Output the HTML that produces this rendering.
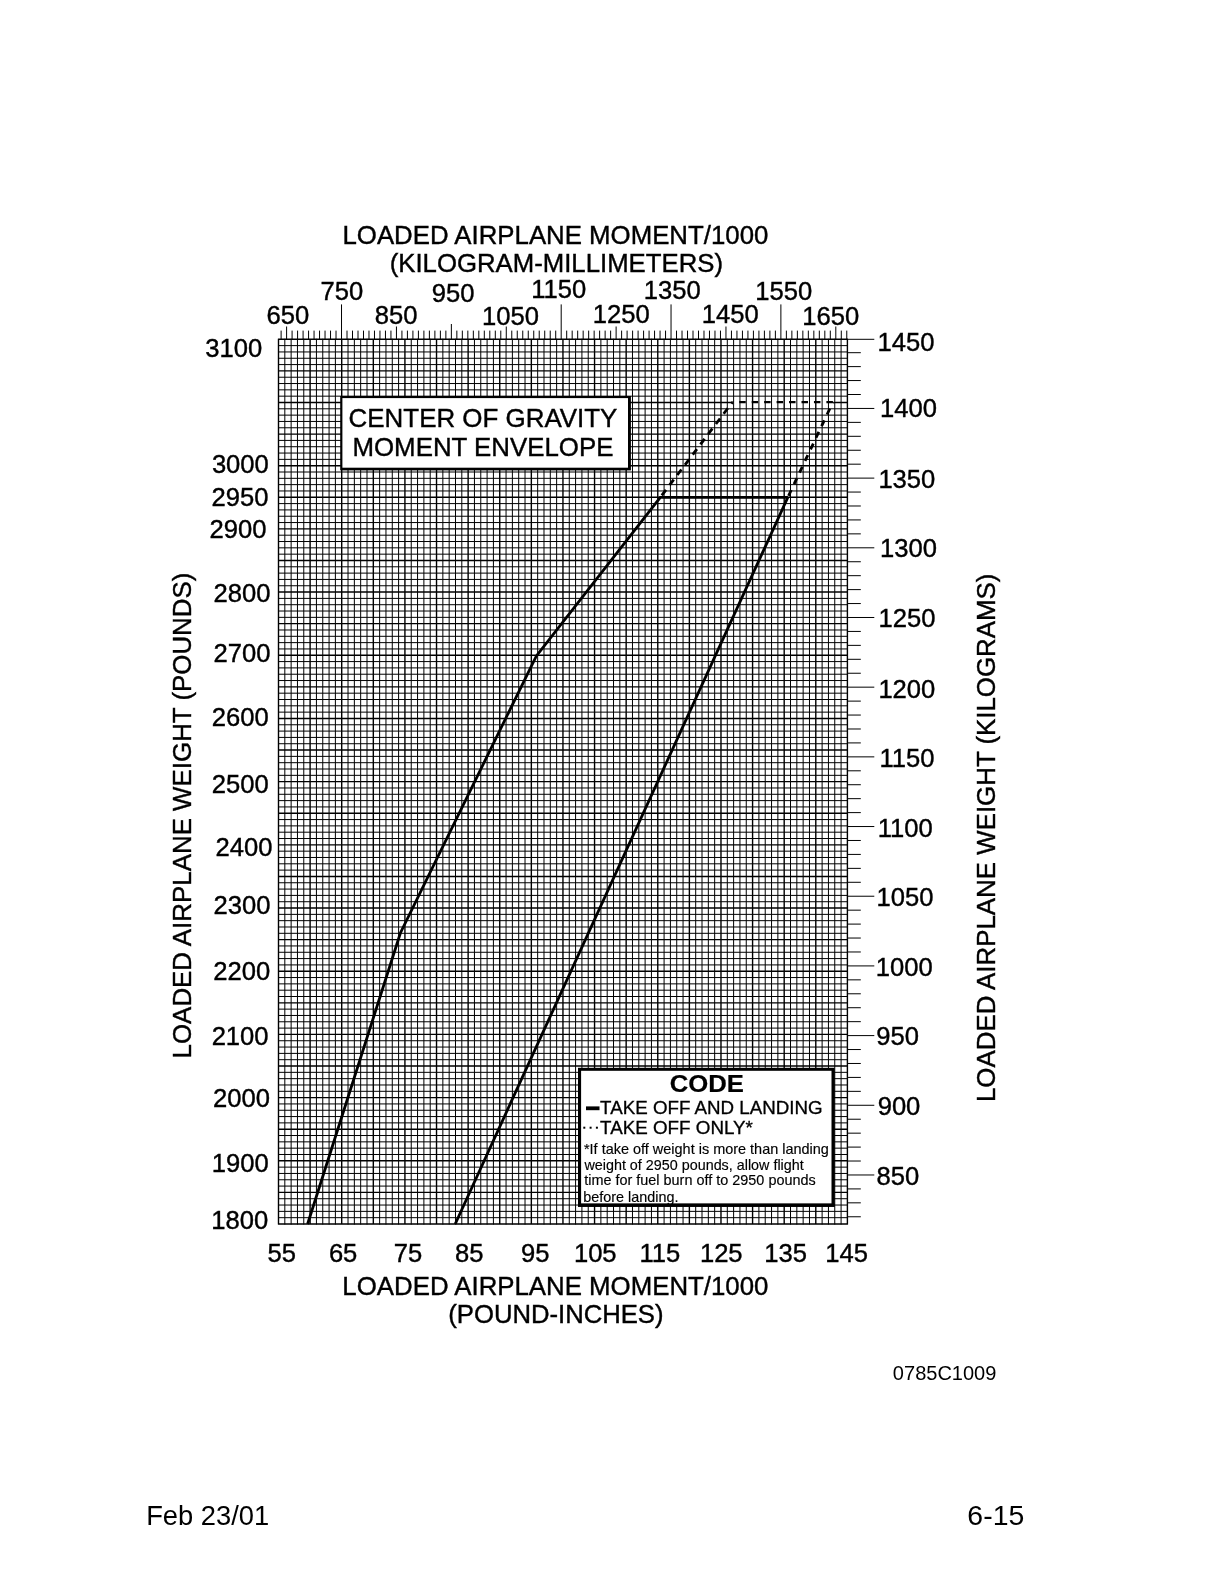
<!DOCTYPE html>
<html lang="en"><head><meta charset="utf-8"><title>Center of Gravity Moment Envelope</title>
<style>html,body{margin:0;padding:0;background:#fff}svg{display:block;will-change:transform}text{font-family:'Liberation Sans', sans-serif;fill:#000;white-space:pre}</style></head><body>
<svg width="1224" height="1584" viewBox="0 0 1224 1584">
<rect x="0" y="0" width="1224" height="1584" fill="#fff"/>
<g stroke="#000" fill="none">
<path stroke-width="1.00" d="M284.82 338.80V1224.50M291.14 338.80V1224.50M297.46 338.80V1224.50M303.78 338.80V1224.50M316.43 338.80V1224.50M322.75 338.80V1224.50M329.07 338.80V1224.50M335.39 338.80V1224.50M348.03 338.80V1224.50M354.35 338.80V1224.50M360.67 338.80V1224.50M367.00 338.80V1224.50M379.64 338.80V1224.50M385.96 338.80V1224.50M392.28 338.80V1224.50M398.60 338.80V1224.50M411.24 338.80V1224.50M417.56 338.80V1224.50M423.89 338.80V1224.50M430.21 338.80V1224.50M442.85 338.80V1224.50M449.17 338.80V1224.50M455.49 338.80V1224.50M461.81 338.80V1224.50M474.45 338.80V1224.50M480.78 338.80V1224.50M487.10 338.80V1224.50M493.42 338.80V1224.50M506.06 338.80V1224.50M512.38 338.80V1224.50M518.70 338.80V1224.50M525.02 338.80V1224.50M537.67 338.80V1224.50M543.99 338.80V1224.50M550.31 338.80V1224.50M556.63 338.80V1224.50M569.27 338.80V1224.50M575.59 338.80V1224.50M581.91 338.80V1224.50M588.23 338.80V1224.50M600.88 338.80V1224.50M607.20 338.80V1224.50M613.52 338.80V1224.50M619.84 338.80V1224.50M632.48 338.80V1224.50M638.80 338.80V1224.50M645.12 338.80V1224.50M651.45 338.80V1224.50M664.09 338.80V1224.50M670.41 338.80V1224.50M676.73 338.80V1224.50M683.05 338.80V1224.50M695.69 338.80V1224.50M702.01 338.80V1224.50M708.34 338.80V1224.50M714.66 338.80V1224.50M727.30 338.80V1224.50M733.62 338.80V1224.50M739.94 338.80V1224.50M746.26 338.80V1224.50M758.90 338.80V1224.50M765.23 338.80V1224.50M771.55 338.80V1224.50M777.87 338.80V1224.50M790.51 338.80V1224.50M796.83 338.80V1224.50M803.15 338.80V1224.50M809.47 338.80V1224.50M822.12 338.80V1224.50M828.44 338.80V1224.50M834.76 338.80V1224.50M841.08 338.80V1224.50M278.00 345.62H847.90M278.00 351.94H847.90M278.00 358.26H847.90M278.00 364.58H847.90M278.00 377.22H847.90M278.00 383.54H847.90M278.00 389.85H847.90M278.00 396.17H847.90M278.00 408.81H847.90M278.00 415.13H847.90M278.00 421.45H847.90M278.00 427.77H847.90M278.00 440.41H847.90M278.00 446.73H847.90M278.00 453.05H847.90M278.00 459.37H847.90M278.00 472.00H847.90M278.00 478.32H847.90M278.00 484.64H847.90M278.00 490.96H847.90M278.00 503.60H847.90M278.00 509.92H847.90M278.00 516.24H847.90M278.00 522.56H847.90M278.00 535.20H847.90M278.00 541.52H847.90M278.00 547.84H847.90M278.00 554.16H847.90M278.00 566.79H847.90M278.00 573.11H847.90M278.00 579.43H847.90M278.00 585.75H847.90M278.00 598.39H847.90M278.00 604.71H847.90M278.00 611.03H847.90M278.00 617.35H847.90M278.00 629.99H847.90M278.00 636.31H847.90M278.00 642.63H847.90M278.00 648.95H847.90M278.00 661.58H847.90M278.00 667.90H847.90M278.00 674.22H847.90M278.00 680.54H847.90M278.00 693.18H847.90M278.00 699.50H847.90M278.00 705.82H847.90M278.00 712.14H847.90M278.00 724.78H847.90M278.00 731.10H847.90M278.00 737.41H847.90M278.00 743.73H847.90M278.00 756.37H847.90M278.00 762.69H847.90M278.00 769.01H847.90M278.00 775.33H847.90M278.00 787.97H847.90M278.00 794.29H847.90M278.00 800.61H847.90M278.00 806.93H847.90M278.00 819.57H847.90M278.00 825.88H847.90M278.00 832.20H847.90M278.00 838.52H847.90M278.00 851.16H847.90M278.00 857.48H847.90M278.00 863.80H847.90M278.00 870.12H847.90M278.00 882.76H847.90M278.00 889.08H847.90M278.00 895.40H847.90M278.00 901.72H847.90M278.00 914.36H847.90M278.00 920.67H847.90M278.00 926.99H847.90M278.00 933.31H847.90M278.00 945.95H847.90M278.00 952.27H847.90M278.00 958.59H847.90M278.00 964.91H847.90M278.00 977.55H847.90M278.00 983.87H847.90M278.00 990.19H847.90M278.00 996.51H847.90M278.00 1009.14H847.90M278.00 1015.46H847.90M278.00 1021.78H847.90M278.00 1028.10H847.90M278.00 1040.74H847.90M278.00 1047.06H847.90M278.00 1053.38H847.90M278.00 1059.70H847.90M278.00 1072.34H847.90M278.00 1078.66H847.90M278.00 1084.98H847.90M278.00 1091.30H847.90M278.00 1103.93H847.90M278.00 1110.25H847.90M278.00 1116.57H847.90M278.00 1122.89H847.90M278.00 1135.53H847.90M278.00 1141.85H847.90M278.00 1148.17H847.90M278.00 1154.49H847.90M278.00 1167.13H847.90M278.00 1173.45H847.90M278.00 1179.77H847.90M278.00 1186.08H847.90M278.00 1198.72H847.90M278.00 1205.04H847.90M278.00 1211.36H847.90M278.00 1217.68H847.90"/>
<path stroke-width="1.40" d="M278.50 338.80V1224.50M310.11 338.80V1224.50M341.71 338.80V1224.50M373.32 338.80V1224.50M404.92 338.80V1224.50M436.53 338.80V1224.50M468.13 338.80V1224.50M499.74 338.80V1224.50M531.34 338.80V1224.50M562.95 338.80V1224.50M594.56 338.80V1224.50M626.16 338.80V1224.50M657.77 338.80V1224.50M689.37 338.80V1224.50M720.98 338.80V1224.50M752.58 338.80V1224.50M784.19 338.80V1224.50M815.79 338.80V1224.50M847.40 338.80V1224.50M278.00 339.30H847.90M278.00 370.90H847.90M278.00 402.49H732.00M833.30 402.49H847.90M278.00 434.09H847.90M278.00 465.69H847.90M278.00 497.28H847.90M278.00 528.88H847.90M278.00 560.48H847.90M278.00 592.07H847.90M278.00 623.67H847.90M278.00 655.26H847.90M278.00 686.86H847.90M278.00 718.46H847.90M278.00 750.05H847.90M278.00 781.65H847.90M278.00 813.25H847.90M278.00 844.84H847.90M278.00 876.44H847.90M278.00 908.04H847.90M278.00 939.63H847.90M278.00 971.23H847.90M278.00 1002.83H847.90M278.00 1034.42H847.90M278.00 1066.02H847.90M278.00 1097.61H847.90M278.00 1129.21H847.90M278.00 1160.81H847.90M278.00 1192.40H847.90M278.00 1224.00H847.90"/>
</g>
<path stroke="#000" stroke-width="1" fill="none" d="M281.11 330.60V339.30M286.60 326.50V339.30M292.09 330.60V339.30M297.58 330.60V339.30M303.08 330.60V339.30M308.57 330.60V339.30M314.06 330.60V339.30M319.55 330.60V339.30M325.04 330.60V339.30M330.54 330.60V339.30M336.03 330.60V339.30M341.52 304.40V339.30M347.01 330.60V339.30M352.50 330.60V339.30M358.00 330.60V339.30M363.49 330.60V339.30M368.98 330.60V339.30M374.47 330.60V339.30M379.96 330.60V339.30M385.46 330.60V339.30M390.95 330.60V339.30M396.44 326.50V339.30M401.93 330.60V339.30M407.42 330.60V339.30M412.92 330.60V339.30M418.41 330.60V339.30M423.90 330.60V339.30M429.39 330.60V339.30M434.88 330.60V339.30M440.38 330.60V339.30M445.87 330.60V339.30M451.36 324.00V339.30M456.85 330.60V339.30M462.34 330.60V339.30M467.84 330.60V339.30M473.33 330.60V339.30M478.82 330.60V339.30M484.31 330.60V339.30M489.80 330.60V339.30M495.30 330.60V339.30M500.79 330.60V339.30M506.28 326.50V339.30M511.77 330.60V339.30M517.26 330.60V339.30M522.76 330.60V339.30M528.25 330.60V339.30M533.74 330.60V339.30M539.23 330.60V339.30M544.72 330.60V339.30M550.22 330.60V339.30M555.71 330.60V339.30M561.20 304.40V339.30M566.69 330.60V339.30M572.18 330.60V339.30M577.68 330.60V339.30M583.17 330.60V339.30M588.66 330.60V339.30M594.15 330.60V339.30M599.64 330.60V339.30M605.14 330.60V339.30M610.63 330.60V339.30M616.12 326.50V339.30M621.61 330.60V339.30M627.10 330.60V339.30M632.60 330.60V339.30M638.09 330.60V339.30M643.58 330.60V339.30M649.07 330.60V339.30M654.56 330.60V339.30M660.06 330.60V339.30M665.55 330.60V339.30M671.04 304.40V339.30M676.53 330.60V339.30M682.02 330.60V339.30M687.52 330.60V339.30M693.01 330.60V339.30M698.50 330.60V339.30M703.99 330.60V339.30M709.48 330.60V339.30M714.98 330.60V339.30M720.47 330.60V339.30M725.96 326.50V339.30M731.45 330.60V339.30M736.94 330.60V339.30M742.44 330.60V339.30M747.93 330.60V339.30M753.42 330.60V339.30M758.91 330.60V339.30M764.40 330.60V339.30M769.90 330.60V339.30M775.39 330.60V339.30M780.88 304.40V339.30M786.37 330.60V339.30M791.86 330.60V339.30M797.36 330.60V339.30M802.85 330.60V339.30M808.34 330.60V339.30M813.83 330.60V339.30M819.32 330.60V339.30M824.82 330.60V339.30M830.31 330.60V339.30M835.80 326.50V339.30M841.29 330.60V339.30M846.78 330.60V339.30"/>
<path stroke="#000" stroke-width="1" fill="none" d="M847.40 1216.78H860.80M847.40 1202.84H860.80M847.40 1188.91H860.80M847.40 1174.97H874.30M847.40 1161.03H860.80M847.40 1147.10H860.80M847.40 1133.16H860.80M847.40 1119.22H860.80M847.40 1105.28H874.30M847.40 1091.35H860.80M847.40 1077.41H860.80M847.40 1063.47H860.80M847.40 1049.54H860.80M847.40 1035.60H874.30M847.40 1021.66H860.80M847.40 1007.73H860.80M847.40 993.79H860.80M847.40 979.85H860.80M847.40 965.91H874.30M847.40 951.98H860.80M847.40 938.04H860.80M847.40 924.10H860.80M847.40 910.17H860.80M847.40 896.23H874.30M847.40 882.29H860.80M847.40 868.36H860.80M847.40 854.42H860.80M847.40 840.48H860.80M847.40 826.54H874.30M847.40 812.61H860.80M847.40 798.67H860.80M847.40 784.73H860.80M847.40 770.80H860.80M847.40 756.86H874.30M847.40 742.92H860.80M847.40 728.99H860.80M847.40 715.05H860.80M847.40 701.11H860.80M847.40 687.17H874.30M847.40 673.24H860.80M847.40 659.30H860.80M847.40 645.36H860.80M847.40 631.43H860.80M847.40 617.49H874.30M847.40 603.55H860.80M847.40 589.62H860.80M847.40 575.68H860.80M847.40 561.74H860.80M847.40 547.80H874.30M847.40 533.87H860.80M847.40 519.93H860.80M847.40 505.99H860.80M847.40 492.06H860.80M847.40 478.12H874.30M847.40 464.18H860.80M847.40 450.25H860.80M847.40 436.31H860.80M847.40 422.37H860.80M847.40 408.44H874.30M847.40 394.50H860.80M847.40 380.56H860.80M847.40 366.62H860.80M847.40 352.69H860.80M847.40 339.30H874.30"/>
<g stroke="#000" fill="none" stroke-width="2.8" stroke-linejoin="miter">
<path d="M307.6 1224L400.4 933L536.4 655.9L660.3 497.4H787.9"/>
<path d="M455.2 1224L787.9 497.2"/>
<path stroke-dasharray="6.9 5.9" stroke-dashoffset="-2.5" d="M660.3 497.4L732.4 402.2"/>
<path stroke-width="2.4" stroke-dasharray="6.5 5.95" d="M832.9 402.15H732.4"/>
<path stroke-dasharray="6.4 6.45" stroke-dashoffset="-1.55" d="M787.9 497.2L832.9 402.2"/>
</g>
<rect x="340.20" y="396.00" width="290.70" height="74.40" fill="#000"/>
<rect x="342.40" y="398.10" width="285.60" height="69.60" fill="#fff"/>
<rect x="578.00" y="1067.80" width="256.70" height="139.00" fill="#000"/>
<rect x="581.10" y="1070.80" width="250.40" height="132.80" fill="#fff"/>
<text x="342.49" y="244.30" font-size="25.60" textLength="425.85" lengthAdjust="spacingAndGlyphs" stroke="#000" stroke-width="0.40">LOADED AIRPLANE MOMENT/1000</text>
<text x="389.69" y="272.40" font-size="25.60" textLength="333.34" lengthAdjust="spacingAndGlyphs" stroke="#000" stroke-width="0.40">(KILOGRAM-MILLIMETERS)</text>
<text x="342.39" y="1295.20" font-size="25.60" textLength="426.05" lengthAdjust="spacingAndGlyphs" stroke="#000" stroke-width="0.40">LOADED AIRPLANE MOMENT/1000</text>
<text x="448.30" y="1323.40" font-size="25.60" textLength="215.23" lengthAdjust="spacingAndGlyphs" stroke="#000" stroke-width="0.40">(POUND-INCHES)</text>
<text x="190.90" y="1058.42" transform="rotate(-90 190.90 1058.42)" font-size="25.60" textLength="485.85" lengthAdjust="spacingAndGlyphs" stroke="#000" stroke-width="0.40">LOADED AIRPLANE WEIGHT (POUNDS)</text>
<text x="994.90" y="1102.01" transform="rotate(-90 994.90 1102.01)" font-size="25.60" textLength="528.45" lengthAdjust="spacingAndGlyphs" stroke="#000" stroke-width="0.40">LOADED AIRPLANE WEIGHT (KILOGRAMS)</text>
<text x="266.61" y="324.40" font-size="25.60" stroke="#000" stroke-width="0.40">650</text>
<text x="320.56" y="300.20" font-size="25.60" stroke="#000" stroke-width="0.40">750</text>
<text x="374.81" y="324.40" font-size="25.60" stroke="#000" stroke-width="0.40">850</text>
<text x="431.86" y="301.50" font-size="25.60" stroke="#000" stroke-width="0.40">950</text>
<text x="481.94" y="324.70" font-size="25.60" stroke="#000" stroke-width="0.40">1050</text>
<text x="531.24" y="298.30" font-size="25.60" stroke="#000" stroke-width="0.40">1150</text>
<text x="592.69" y="323.10" font-size="25.60" stroke="#000" stroke-width="0.40">1250</text>
<text x="643.79" y="298.60" font-size="25.60" stroke="#000" stroke-width="0.40">1350</text>
<text x="701.79" y="323.10" font-size="25.60" stroke="#000" stroke-width="0.40">1450</text>
<text x="755.19" y="299.90" font-size="25.60" stroke="#000" stroke-width="0.40">1550</text>
<text x="802.29" y="324.70" font-size="25.60" stroke="#000" stroke-width="0.40">1650</text>
<text x="205.24" y="357.20" font-size="25.60" stroke="#000" stroke-width="0.40">3100</text>
<text x="211.89" y="472.80" font-size="25.60" stroke="#000" stroke-width="0.40">3000</text>
<text x="211.49" y="505.50" font-size="25.60" stroke="#000" stroke-width="0.40">2950</text>
<text x="209.49" y="537.70" font-size="25.60" stroke="#000" stroke-width="0.40">2900</text>
<text x="213.49" y="602.20" font-size="25.60" stroke="#000" stroke-width="0.40">2800</text>
<text x="213.44" y="662.30" font-size="25.60" stroke="#000" stroke-width="0.40">2700</text>
<text x="211.84" y="725.60" font-size="25.60" stroke="#000" stroke-width="0.40">2600</text>
<text x="211.84" y="793.00" font-size="25.60" stroke="#000" stroke-width="0.40">2500</text>
<text x="215.49" y="855.70" font-size="25.60" stroke="#000" stroke-width="0.40">2400</text>
<text x="213.59" y="913.50" font-size="25.60" stroke="#000" stroke-width="0.40">2300</text>
<text x="213.34" y="979.50" font-size="25.60" stroke="#000" stroke-width="0.40">2200</text>
<text x="211.64" y="1045.00" font-size="25.60" stroke="#000" stroke-width="0.40">2100</text>
<text x="212.99" y="1106.60" font-size="25.60" stroke="#000" stroke-width="0.40">2000</text>
<text x="211.79" y="1172.10" font-size="25.60" stroke="#000" stroke-width="0.40">1900</text>
<text x="211.19" y="1229.10" font-size="25.60" stroke="#000" stroke-width="0.40">1800</text>
<text x="877.49" y="350.50" font-size="25.60" stroke="#000" stroke-width="0.40">1450</text>
<text x="880.09" y="417.00" font-size="25.60" stroke="#000" stroke-width="0.40">1400</text>
<text x="878.39" y="488.30" font-size="25.60" stroke="#000" stroke-width="0.40">1350</text>
<text x="880.09" y="557.40" font-size="25.60" stroke="#000" stroke-width="0.40">1300</text>
<text x="878.49" y="626.80" font-size="25.60" stroke="#000" stroke-width="0.40">1250</text>
<text x="878.39" y="697.60" font-size="25.60" stroke="#000" stroke-width="0.40">1200</text>
<text x="879.54" y="766.70" font-size="25.60" stroke="#000" stroke-width="0.40">1150</text>
<text x="877.74" y="837.00" font-size="25.60" stroke="#000" stroke-width="0.40">1100</text>
<text x="876.49" y="905.60" font-size="25.60" stroke="#000" stroke-width="0.40">1050</text>
<text x="875.79" y="975.60" font-size="25.60" stroke="#000" stroke-width="0.40">1000</text>
<text x="876.31" y="1045.40" font-size="25.60" stroke="#000" stroke-width="0.40">950</text>
<text x="877.66" y="1115.10" font-size="25.60" stroke="#000" stroke-width="0.40">900</text>
<text x="876.51" y="1184.70" font-size="25.60" stroke="#000" stroke-width="0.40">850</text>
<text x="267.53" y="1262.00" font-size="25.60" stroke="#000" stroke-width="0.40">55</text>
<text x="328.88" y="1262.00" font-size="25.60" stroke="#000" stroke-width="0.40">65</text>
<text x="393.83" y="1262.00" font-size="25.60" stroke="#000" stroke-width="0.40">75</text>
<text x="454.98" y="1262.00" font-size="25.60" stroke="#000" stroke-width="0.40">85</text>
<text x="520.93" y="1262.00" font-size="25.60" stroke="#000" stroke-width="0.40">95</text>
<text x="573.91" y="1262.00" font-size="25.60" stroke="#000" stroke-width="0.40">105</text>
<text x="639.46" y="1262.00" font-size="25.60" stroke="#000" stroke-width="0.40">115</text>
<text x="699.91" y="1262.00" font-size="25.60" stroke="#000" stroke-width="0.40">125</text>
<text x="764.21" y="1262.00" font-size="25.60" stroke="#000" stroke-width="0.40">135</text>
<text x="825.31" y="1262.00" font-size="25.60" stroke="#000" stroke-width="0.40">145</text>
<text x="348.59" y="426.70" font-size="25.60" textLength="268.79" lengthAdjust="spacingAndGlyphs" stroke="#000" stroke-width="0.40">CENTER OF GRAVITY</text>
<text x="352.48" y="455.70" font-size="25.60" textLength="261.00" lengthAdjust="spacingAndGlyphs" stroke="#000" stroke-width="0.40">MOMENT ENVELOPE</text>
<text x="669.80" y="1092.40" font-size="23.80" font-weight="bold" textLength="74.18" lengthAdjust="spacingAndGlyphs" stroke="#000" stroke-width="0.20">CODE</text>
<text x="600.11" y="1113.70" font-size="17.70" textLength="222.59" lengthAdjust="spacingAndGlyphs" stroke="#000" stroke-width="0.30">TAKE OFF AND LANDING</text>
<text x="600.11" y="1134.20" font-size="17.70" textLength="152.76" lengthAdjust="spacingAndGlyphs" stroke="#000" stroke-width="0.30">TAKE OFF ONLY*</text>
<text x="583.97" y="1153.50" font-size="14.20" textLength="244.94" lengthAdjust="spacingAndGlyphs" stroke="#000" stroke-width="0.15">*If take off weight is more than landing</text>
<text x="584.42" y="1169.90" font-size="14.20" textLength="219.33" lengthAdjust="spacingAndGlyphs" stroke="#000" stroke-width="0.15">weight of 2950 pounds, allow flight</text>
<text x="584.20" y="1185.40" font-size="14.20" textLength="231.55" lengthAdjust="spacingAndGlyphs" stroke="#000" stroke-width="0.15">time for fuel burn off to 2950 pounds</text>
<text x="583.30" y="1201.60" font-size="14.20" textLength="95.10" lengthAdjust="spacingAndGlyphs" stroke="#000" stroke-width="0.15">before landing.</text>
<text x="892.87" y="1379.90" font-size="19.90" textLength="103.54" lengthAdjust="spacingAndGlyphs">0785C1009</text>
<text x="146.17" y="1524.60" font-size="27.80" textLength="123.04" lengthAdjust="spacingAndGlyphs">Feb 23/01</text>
<text x="967.37" y="1525.20" font-size="27.80" textLength="56.88" lengthAdjust="spacingAndGlyphs">6-15</text>
<rect x="586" y="1106.4" width="13.5" height="3.8" fill="#000"/>
<rect x="583.30" y="1126.7" width="2" height="2" fill="#000"/>
<rect x="589.60" y="1126.7" width="2" height="2" fill="#000"/>
<rect x="595.90" y="1126.7" width="2" height="2" fill="#000"/>
<rect x="578" y="1203.6" width="256.7" height="3.2" fill="#000"/>
</svg></body></html>
